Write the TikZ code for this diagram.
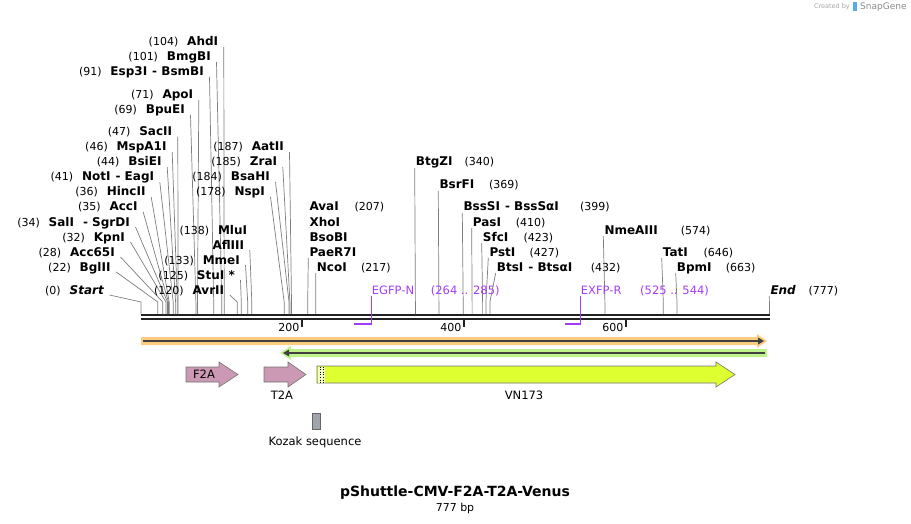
\documentclass[tikz,border=0pt]{standalone}
\usepackage{fontspec}
\setmainfont{DejaVu Sans}
\usetikzlibrary{calc}
\definecolor{ldc}{RGB}{125,125,125}
\definecolor{prim}{RGB}{165,60,245}
\definecolor{pinkf}{RGB}{204,153,180}
\definecolor{vnc}{RGB}{222,255,48}
\definecolor{orh}{RGB}{252,204,128}
\definecolor{grh}{RGB}{192,242,140}
\definecolor{mapc}{RGB}{34,34,34}
\definecolor{kozc}{RGB}{160,164,172}
\definecolor{sgblue}{RGB}{90,170,235}
\tikzset{
 nm/.style={font=\bfseries\fontsize{12}{14}\selectfont, inner sep=0pt},
 nu/.style={font=\fontsize{11}{13}\selectfont, inner sep=0pt},
 ld/.style={draw=ldc, line width=0.7pt},
 pr/.style={text=prim, font=\fontsize{11.5}{13}\selectfont, inner sep=0pt},
 ft/.style={font=\fontsize{11.5}{13}\selectfont, inner sep=0pt},
 farrow/.style={draw=black!55, line width=0.6pt},
 mapline/.style={draw=mapc, line width=2.4pt},
 tickline/.style={draw=mapc, line width=2pt},
}
\newcommand\Lsite[6]{%
 \node[nm, anchor=base east] (#1) at (#2,#3+4) {#5};
 \node[nu, anchor=base east] (#1n) at ([xshift=-8.5pt]#1.base west) {#4};
 \coordinate (#1k) at (#6,302);
 \coordinate (#1m) at (#6,314);
 \draw[ld] ([xshift=5.5pt,yshift=-1pt]#1.base east) -- (#1k) -- (#1m);
}
\newcommand\Rsite[7]{%
 \node[nm, anchor=base west] (#1) at (#2,#3+4) {#4};
 \node[nu, anchor=base west] (#1n) at (#5,#3+4) {#6};
 \coordinate (#1k) at (#7,302);
 \coordinate (#1m) at (#7,314);
 \draw[ld] ([xshift=-1pt,yshift=-2pt]#1.base west) -- (#1k) -- (#1m);
}
\begin{document}
\begin{tikzpicture}[x=1pt,y=-1pt]
\useasboundingbox (0,0) rectangle (911,524);
% map
\coordinate (m0a) at (141,314.7); \coordinate (m1a) at (770,314.7);
\coordinate (m0b) at (141,318.7); \coordinate (m1b) at (770,318.7);
\draw[mapline] (m0a) -- (m1a);
\draw[mapline] (m0b) -- (m1b);
% ticks
\foreach \t/\x in {200/302,400/464,600/626}{
 \draw[tickline] (\x,319) -- (\x,327);
 \node[nu, anchor=base east] (tk\t) at (\x-2.5,331) {\t};
}
% left labels
\Lsite{ahd}{218.3}{42}{(104)}{AhdI}{224.2}
\Lsite{bmg}{211}{57}{(101)}{BmgBI}{221.8}
\Lsite{esp}{204}{72}{(91)}{Esp3I\hspace{5pt}- BsmBI}{213.7}
\Lsite{apo}{193.3}{95}{(71)}{ApoI}{197.5}
\Lsite{bpu}{185}{110}{(69)}{BpuEI}{195.9}
\Lsite{sac}{172.3}{132}{(47)}{SacII}{178.1}
\Lsite{msp}{166.7}{147}{(46)}{MspA1I}{177.3}
\Lsite{bsi}{161.7}{162}{(44)}{BsiEI}{175.6}
\Lsite{not}{154.3}{177}{(41)}{NotI\hspace{5pt}- EagI}{173.2}
\Lsite{hin}{145.7}{192}{(36)}{HincII}{169.2}
\Lsite{acc}{137.7}{207}{(35)}{AccI}{168.4}
\Lsite{sal}{130}{222}{(34)}{SalI\hspace{9pt}- SgrDI}{167.5}
\Lsite{kpn}{125}{237}{(32)}{KpnI}{165.9}
\Lsite{aSF}{115}{252}{(28)}{Acc65I}{162.7}
\Lsite{bgl}{110.7}{267}{(22)}{BglII}{157.8}
\Lsite{sta}{104}{290}{(0)}{\itshape Start}{141}
\Lsite{aat}{284}{147}{(187)}{AatII}{291.5}
\Lsite{zra}{277.3}{162}{(185)}{ZraI}{289.9}
\Lsite{bsa}{270}{177}{(184)}{BsaHI}{289}
\Lsite{nsp}{265}{192}{(178)}{NspI}{284.2}
\node[nm, anchor=base east] (mlu) at (247.3,234) {MluI};
\node[nu, anchor=base east] (mlun) at ([xshift=-8.5pt]mlu.base west) {(138)};
\node[nm, anchor=base east] (afl) at (244.3,249) {AflIII};
\coordinate (aflk) at (251.8,302); \coordinate (aflm) at (251.8,314);
\draw[ld] ([xshift=5.5pt,yshift=-1pt]afl.base east) -- (aflk) -- (aflm);
\Lsite{mme}{240}{260}{(133)}{MmeI}{247.7}
\Lsite{stu}{235}{275}{(125)}{StuI *}{241.3}
\Lsite{avr}{224.3}{290}{(120)}{AvrII}{237.2}
% right labels
\node[nm, anchor=base west] (ava) at (309.3,211) {AvaI};
\node[nu, anchor=base west] (avan) at (354.3,211) {(207)};
\node[nm, anchor=base west] (xho) at (309.3,226) {XhoI};
\node[nm, anchor=base west] (bso) at (309.3,241) {BsoBI};
\node[nm, anchor=base west] (pae) at (309.3,256) {PaeR7I};
\coordinate (paek) at (307.7,302); \coordinate (paem) at (307.7,314);
\draw[ld] ([xshift=-1pt,yshift=-2pt]pae.base west) -- (paek) -- (paem);
\Rsite{nco}{316.7}{267}{NcoI}{361}{(217)}{315.8}
\Rsite{btg}{415.7}{162}{BtgZI}{464.3}{(340)}{415.4}
\Rsite{bsr}{439.3}{185}{BsrFI}{489}{(369)}{438.9}
\Rsite{bss}{463.3}{207}{BssSI\hspace{5pt}- BssSαI}{580}{(399)}{463.2}
\Rsite{pas}{472.7}{222}{PasI}{515.7}{(410)}{472.1}
\Rsite{sfc}{482.7}{237}{SfcI}{523.3}{(423)}{482.6}
\Rsite{pst}{489.3}{252}{PstI}{529.3}{(427)}{485.9}
\Rsite{bts}{496.7}{267}{BtsI\hspace{5pt}- BtsαI}{590.7}{(432)}{489.9}
\Rsite{nme}{604.3}{230}{NmeAIII}{680.7}{(574)}{604.9}
\Rsite{tat}{662.7}{252}{TatI}{703.3}{(646)}{663.3}
\Rsite{bpm}{676.7}{267}{BpmI}{725.7}{(663)}{677}
\Rsite{end}{770.3}{290}{\itshape End}{808.3}{(777)}{769.4}
% primers
\node[pr, anchor=base west] (egfp) at (371.7,294) {EGFP-N};
\node[pr, anchor=base west] (egfpr) at (430.7,294) {(264 .. 285)};
\coordinate (egA) at (371,296); \coordinate (egB) at (371,324);
\coordinate (egC) at (354,323.5); \coordinate (egD) at (371.6,323.5);
\draw[prim, line width=1pt] (egA) -- (egB);
\draw[prim, line width=2pt] (egC) -- (egD);
\node[pr, anchor=base west] (exfp) at (580.7,294) {EXFP-R};
\node[pr, anchor=base west] (exfpr) at (640,294) {(525 .. 544)};
\coordinate (exA) at (580.6,296); \coordinate (exB) at (580.6,324);
\coordinate (exC) at (565.3,323.5); \coordinate (exD) at (581.2,323.5);
\draw[prim, line width=1pt] (exA) -- (exB);
\draw[prim, line width=2pt] (exC) -- (exD);
% orange full-length arrow
\fill[orh] (141,337) -- (757,337) -- (757,334) -- (767,341) -- (757,348) -- (757,345) -- (141,345) -- cycle;
\draw[black!75, line width=2.2pt] (143,341) -- (759,341);
\fill[black!75] (758,337.5) -- (764,341) -- (758,344.5) -- cycle;
% green reverse arrow
\fill[grh] (767,349) -- (291,349) -- (291,346) -- (280,353) -- (291,360) -- (291,357) -- (767,357) -- cycle;
\draw[black!75, line width=2.2pt] (765,353) -- (288,353);
\fill[black!75] (289,349.5) -- (283,353) -- (289,356.5) -- cycle;
% features
\draw[farrow, fill=pinkf] (186,367) -- (219,367) -- (219,362) -- (238,374.5) -- (219,387) -- (219,382) -- (186,382) -- cycle;
\node[ft] (f2a) at (204,374.5) {F2A};
\draw[farrow, fill=pinkf] (264,367) -- (288,367) -- (288,362) -- (306,374.5) -- (288,387) -- (288,382) -- (264,382) -- cycle;
\node[ft] (t2a) at (282,395.5) {T2A};
\draw[farrow, fill=vnc] (317,366) -- (716,366) -- (716,362) -- (735,374.5) -- (716,387) -- (716,383) -- (317,383) -- cycle;
\fill[vnc!35] (317.5,366.5) rectangle (324.5,382.5);
\draw[black, dotted, line width=0.6pt] (320.3,366.5) -- (320.3,382.5);
\draw[black, dotted, line width=0.6pt] (323,366.5) -- (323,382.5);
\node[ft] (vn) at (524,395.5) {VN173};
\draw[black!60, line width=0.6pt, fill=kozc] (312,413) rectangle (320,429);
\node[ft] (koz) at (315,442.5) {Kozak sequence};
% title
\node[font=\bfseries\fontsize{14}{16}\selectfont, inner sep=0pt] (title) at (455,493) {pShuttle-CMV-F2A-T2A-Venus};
\node[nu] (bp) at (455,508) {777 bp};
% credit
\node[font=\fontsize{6.5}{7}\selectfont, text=black!35, inner sep=0pt, anchor=east] (cr) at (850,7) {Created by};
\fill[sgblue] (853,2.5) rectangle (857,11.5);
\node[font=\fontsize{9}{10}\selectfont, text=black!45, inner sep=0pt, anchor=west] (sg) at (860,7) {SnapGene};
\end{tikzpicture}
\end{document}
